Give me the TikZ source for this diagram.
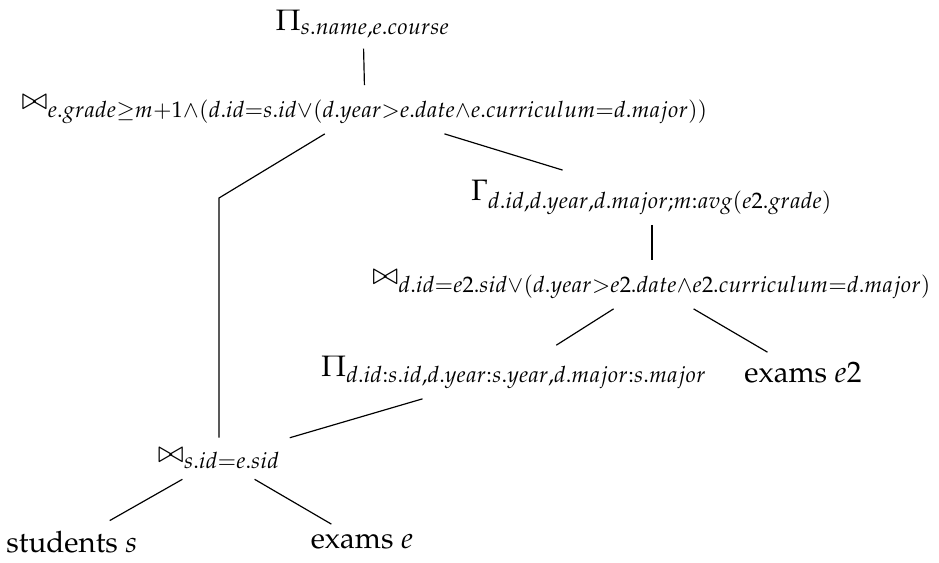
\documentclass[tikz,border=0pt]{standalone}
\usepackage[T1]{fontenc}
\usepackage{mathpazo}
\begin{document}
\begin{tikzpicture}[x=0.3386pt, y=-0.3386pt, op/.style={inner sep=3.33pt}]
    \useasboundingbox (0, 0) rectangle (939, 562);

    \node[op] (pi-top) at (363, 24) {$\Pi_{s.name,e.course}$};
    \node[op] (join-1) at (365, 109.5) {$\bowtie_{e.grade\geq m+1\wedge(d.id=s.id\vee(d.year>e.date\wedge e.curriculum=d.major))}$};

    \draw (pi-top) -- (join-1);

    % left branch, straight down to the shared join
    \coordinate (bend-1) at (219, 198);
    \node[op] (join-2) at (219, 458.5) {$\bowtie_{s.id=e.sid}$};
    \node[op] (rel-s) at (72, 542) {students $s$};
    \node[op] (rel-e) at (362, 542) {exams $e$};

    \draw (join-1) -- (bend-1) -- (join-2);
    \draw (join-2) -- (rel-s);
    \draw (join-2) -- (rel-e);

    % right branch
    \node[op] (gamma) at (652, 197.5) {$\Gamma_{d.id,d.year,d.major;m:avg(e2.grade)}$};
    \node[op] (join-3) at (652, 284.5) {$\bowtie_{d.id=e2.sid\vee(d.year>e2.date\wedge e2.curriculum=d.major)}$};
    \node[op] (pi-mid) at (514, 372) {$\Pi_{d.id:s.id,d.year:s.year,d.major:s.major}$};
    \node[op] (rel-e2) at (803, 373) {exams $e2$};

    \draw (join-1) -- (gamma);
    \draw (gamma) -- (join-3);
    \draw (join-3) -- (pi-mid);
    \draw (join-3) -- (rel-e2);
    \draw (pi-mid) -- (join-2);
\end{tikzpicture}
\end{document}
